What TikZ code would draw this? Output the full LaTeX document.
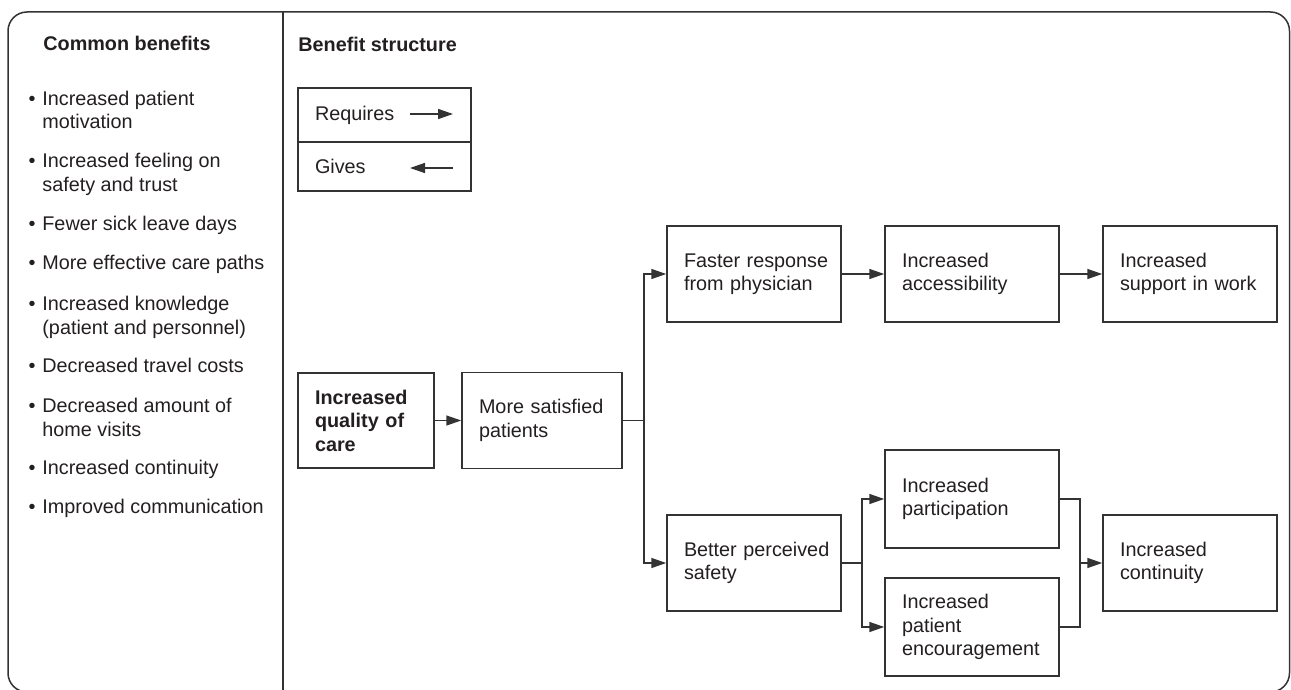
\documentclass[tikz,border=0pt]{standalone}
\usepackage{fontspec}
\setmainfont{Liberation Sans}
\usetikzlibrary{arrows.meta}
\definecolor{ln}{HTML}{333333}
\definecolor{tx}{HTML}{231F20}
\newcommand{\fs}{\fontsize{9.9pt}{11.75pt}\selectfont}
\tikzset{
  box/.style={draw=ln, line width=0.75pt, minimum width=87pt, minimum height=48pt,
    text width=70pt, inner xsep=8.5pt, inner ysep=0pt, align=left, font=\fs, text=tx,
    execute at begin node={\hyphenpenalty=10000\exhyphenpenalty=10000\hbadness=10000\hfuzz=50pt}},
  conn/.style={draw=ln, line width=0.75pt},
  arr/.style={conn, -{Triangle[length=7.5pt,width=5pt]}},
  lst/.style={anchor=base west, inner sep=0pt, font=\fs, text=tx},
  bul/.style={anchor=base, inner sep=0pt, font=\fs, text=tx},
  head/.style={anchor=base west, inner sep=0pt, font=\fs\bfseries, text=tx}
}
\begin{document}
\begin{tikzpicture}[x=0.5pt, y=-0.5pt]
\useasboundingbox (0,0) rectangle (1291,690);
% frame
\draw[ln, line width=0.75pt, rounded corners=9.5pt] (8,12) rectangle (1289.5,692);
\draw[ln, line width=0.75pt] (283,12) -- (283,692);
% headings
\node[head] (h1) at (43,51) {Common benefits};
\node[head] (h2) at (298,51.5) {Benefit structure};
% list
\node[bul] (b1) at (32,105.5) {\textbullet};
\node[lst] (l1a) at (42,105.5) {Increased patient};
\node[lst] (l1b) at (42,129) {motivation};
\node[bul] (b2) at (32,167.5) {\textbullet};
\node[lst] (l2a) at (42,167.5) {Increased feeling on};
\node[lst] (l2b) at (42,191.5) {safety and trust};
\node[bul] (b3) at (32,230.5) {\textbullet};
\node[lst] (l3) at (42,230.5) {Fewer sick leave days};
\node[bul] (b4) at (32,269.5) {\textbullet};
\node[lst] (l4) at (42,269.5) {More effective care paths};
\node[bul] (b5) at (32,310) {\textbullet};
\node[lst] (l5a) at (42,310) {Increased knowledge};
\node[lst] (l5b) at (42,334) {(patient and personnel)};
\node[bul] (b6) at (32,372.5) {\textbullet};
\node[lst] (l6) at (42,372.5) {Decreased travel costs};
\node[bul] (b7) at (32,412) {\textbullet};
\node[lst] (l7a) at (42,412) {Decreased amount of};
\node[lst] (l7b) at (42,436) {home visits};
\node[bul] (b8) at (32,474.5) {\textbullet};
\node[lst] (l8) at (42,474.5) {Increased continuity};
\node[bul] (b9) at (32,513.5) {\textbullet};
\node[lst] (l9) at (42,513.5) {Improved communication};
% legend
\node[box, minimum width=86.5pt, text width=69.5pt, minimum height=27pt] (legR) at (384.5,115) {Requires};
\node[box, minimum width=86.5pt, text width=69.5pt, minimum height=24.5pt] (legG) at (384.5,166.5) {Gives};
\coordinate (ra1) at (410,114);
\coordinate (ra2) at (453,114);
\coordinate (ga1) at (453,168);
\coordinate (ga2) at (410,168);
\draw[arr] (ra1) -- (ra2);
\draw[arr] (ga1) -- (ga2);
% boxes
\node[box, minimum width=68pt, text width=51pt, minimum height=47.5pt, font=\fs\bfseries] (q) at (366,420.5) {Increased\\quality of\\care};
\node[box, minimum width=80pt, text width=63pt] (sat) at (542,420.5) {More satisfied\\patients};
\node[box] (fast) at (754,274) {\mbox{Faster response}\\from physician};
\node[box] (acc) at (972,274) {Increased\\accessibility};
\node[box] (sup) at (1190,274) {Increased\\support in work};
\node[box] (safe) at (754,563) {\mbox{Better perceived}\\safety};
\node[box, minimum height=49pt] (part) at (972,499) {Increased\\participation};
\node[box, minimum height=49pt] (enc) at (972,627) {Increased\\patient\\encouragement};
\node[box] (cont) at (1190,563) {Increased\\continuity};
% connectors
\draw[arr] (q) -- (sat);
\coordinate (s1) at (644,420.5);
\draw[conn] (sat.east) -- (s1);
\draw[arr] (s1) |- (fast.west);
\draw[arr] (s1) |- (safe.west);
\draw[arr] (fast) -- (acc);
\draw[arr] (acc) -- (sup);
\coordinate (s2) at (862,563);
\draw[conn] (safe.east) -- (s2);
\draw[arr] (s2) |- (part.west);
\draw[arr] (s2) |- (enc.west);
\coordinate (m1) at (1080,563);
\draw[conn] (part.east) -| (m1);
\draw[conn] (enc.east) -| (m1);
\draw[arr] (m1) -- (cont.west);
\end{tikzpicture}
\end{document}
